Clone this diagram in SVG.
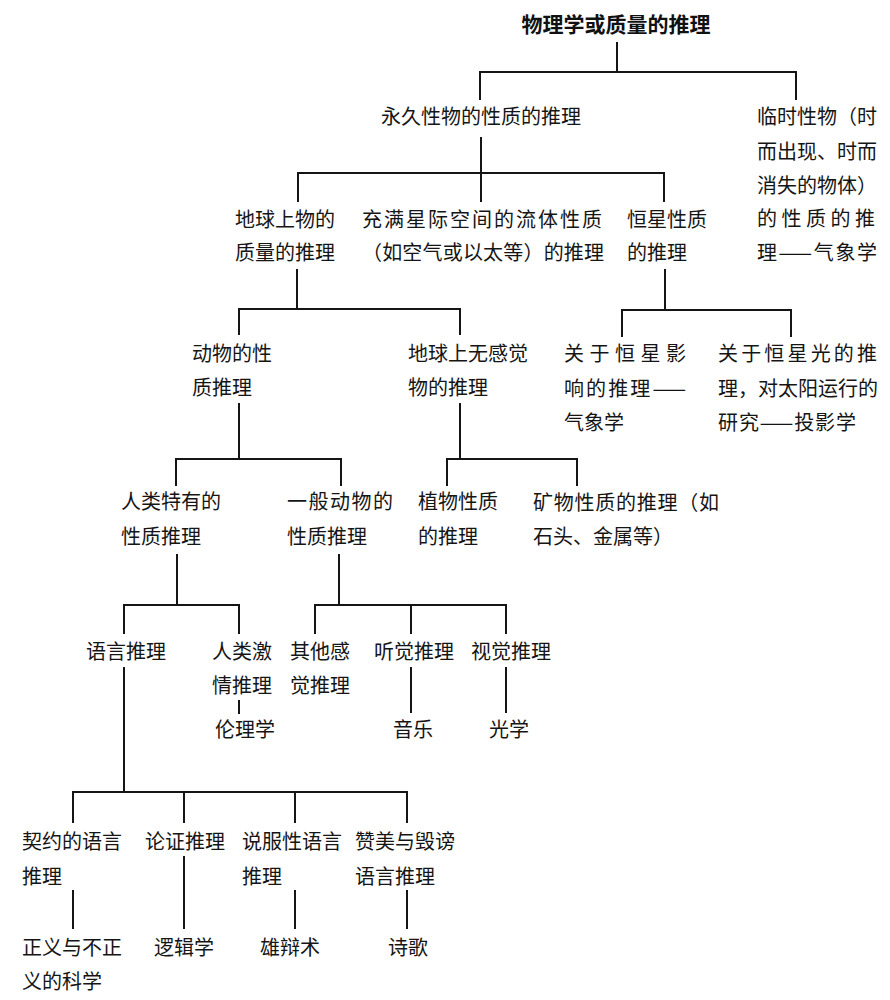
<svg xmlns="http://www.w3.org/2000/svg" width="890" height="1000" viewBox="0 0 890 1000">
<style>
  .t { font-family: "Noto Sans CJK SC", "Noto Sans", sans-serif; font-size: 20px; fill: #151515; }
  .title { font-family: "Noto Sans CJK SC", "Noto Sans", sans-serif; font-size: 21px; font-weight: bold; fill: #111; }
  .c { fill: none; stroke: #151515; stroke-width: 2; stroke-linecap: square; }
</style>
<rect width="890" height="1000" fill="#ffffff"/>
<g id="connectors">
  <path class="c" d="M617,43 V72 M480,72 H796 M480,72 V99 M796,72 V99"/>
  <path class="c" d="M481,138 V201 M298,173 H664 M298,173 V201 M664,173 V201"/>
  <path class="c" d="M297,270 V309 M239,309 H460 M239,309 V334 M460,309 V334"/>
  <path class="c" d="M665,270 V310 M622,310 H791 M622,310 V336 M791,310 V336"/>
  <path class="c" d="M239,404 V459 M176,459 H341 M176,459 V485 M341,459 V485"/>
  <path class="c" d="M460,404 V459 M447,459 H577 M447,459 V485 M577,459 V485"/>
  <path class="c" d="M177,555 V605 M124,605 H239 M124,605 V633 M239,605 V633"/>
  <path class="c" d="M339,555 V605 M315,605 H506 M315,605 V633 M411,605 V633 M506,605 V633"/>
  <path class="c" d="M239,701 V713"/>
  <path class="c" d="M411,668 V712 M506,668 V712"/>
  <path class="c" d="M124,668 V792 M73,792 H407 M73,792 V822 M184,792 V822 M295,792 V822 M407,792 V822"/>
  <path class="c" d="M73,891 V928 M184,857 V928 M295,891 V928 M407,891 V928"/>
</g>
<g id="n-root"><text class="title" x="616" y="32" text-anchor="middle">物理学或质量的推理</text></g>
<g id="n-permanent"><text class="t" x="381" y="124">永久性物的性质的推理</text></g>
<g id="n-temporary">
  <text class="t" x="757" y="124" textLength="120" lengthAdjust="spacing">临时性物（时</text>
  <text class="t" x="757" y="159" textLength="120" lengthAdjust="spacing">而出现、时而</text>
  <text class="t" x="757" y="193">消失的物体）</text>
  <text class="t" x="757" y="226" textLength="118" lengthAdjust="spacing">的性质的推</text>
  <text class="t" x="757" y="260" textLength="120" lengthAdjust="spacing">理——气象学</text>
</g>
<g id="n-earth">
  <text class="t" x="235" y="227">地球上物的</text>
  <text class="t" x="235" y="260">质量的推理</text>
</g>
<g id="n-fluid">
  <text class="t" x="362" y="227" textLength="240" lengthAdjust="spacing">充满星际空间的流体性质</text>
  <text class="t" x="362" y="260" textLength="242" lengthAdjust="spacing">（如空气或以太等）的推理</text>
</g>
<g id="n-stars">
  <text class="t" x="627" y="227">恒星性质</text>
  <text class="t" x="627" y="260">的推理</text>
</g>
<g id="n-animal">
  <text class="t" x="192" y="361">动物的性</text>
  <text class="t" x="192" y="395">质推理</text>
</g>
<g id="n-insensible">
  <text class="t" x="408" y="361">地球上无感觉</text>
  <text class="t" x="408" y="395">物的推理</text>
</g>
<g id="n-star-influence">
  <text class="t" x="564" y="361" textLength="122" lengthAdjust="spacing">关于恒星影</text>
  <text class="t" x="564" y="396" textLength="122" lengthAdjust="spacing">响的推理——</text>
  <text class="t" x="564" y="430">气象学</text>
</g>
<g id="n-star-light">
  <text class="t" x="718" y="361" textLength="159" lengthAdjust="spacing">关于恒星光的推</text>
  <text class="t" x="718" y="396" textLength="160" lengthAdjust="spacing">理，对太阳运行的</text>
  <text class="t" x="718" y="430" textLength="138" lengthAdjust="spacing">研究——投影学</text>
</g>
<g id="n-human">
  <text class="t" x="121" y="509">人类特有的</text>
  <text class="t" x="121" y="544">性质推理</text>
</g>
<g id="n-general-animal">
  <text class="t" x="287" y="509" textLength="106" lengthAdjust="spacing">一般动物的</text>
  <text class="t" x="287" y="544">性质推理</text>
</g>
<g id="n-plant">
  <text class="t" x="418" y="509">植物性质</text>
  <text class="t" x="418" y="544">的推理</text>
</g>
<g id="n-mineral">
  <text class="t" x="533" y="510" textLength="186" lengthAdjust="spacing">矿物性质的推理（如</text>
  <text class="t" x="533" y="544">石头、金属等）</text>
</g>
<g id="n-language"><text class="t" x="86" y="659">语言推理</text></g>
<g id="n-passion">
  <text class="t" x="212" y="659">人类激</text>
  <text class="t" x="212" y="693">情推理</text>
</g>
<g id="n-ethics"><text class="t" x="215" y="737">伦理学</text></g>
<g id="n-other-senses">
  <text class="t" x="290" y="659">其他感</text>
  <text class="t" x="290" y="693">觉推理</text>
</g>
<g id="n-hearing"><text class="t" x="374" y="659">听觉推理</text></g>
<g id="n-music"><text class="t" x="393" y="737">音乐</text></g>
<g id="n-sight"><text class="t" x="471" y="659">视觉推理</text></g>
<g id="n-optics"><text class="t" x="489" y="737">光学</text></g>
<g id="n-contract">
  <text class="t" x="22" y="849">契约的语言</text>
  <text class="t" x="22" y="884">推理</text>
</g>
<g id="n-argument"><text class="t" x="145" y="849">论证推理</text></g>
<g id="n-persuasion">
  <text class="t" x="242" y="849">说服性语言</text>
  <text class="t" x="242" y="884">推理</text>
</g>
<g id="n-praise">
  <text class="t" x="355" y="849">赞美与毁谤</text>
  <text class="t" x="355" y="884">语言推理</text>
</g>
<g id="n-justice">
  <text class="t" x="22" y="955">正义与不正</text>
  <text class="t" x="22" y="989">义的科学</text>
</g>
<g id="n-logic"><text class="t" x="154" y="955">逻辑学</text></g>
<g id="n-rhetoric"><text class="t" x="260" y="955">雄辩术</text></g>
<g id="n-poetry"><text class="t" x="388" y="955">诗歌</text></g>
</svg>
